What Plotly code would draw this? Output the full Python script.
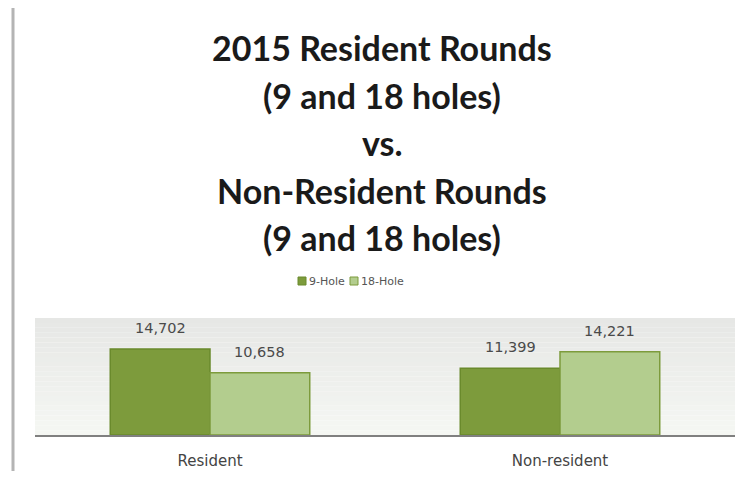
import plotly.graph_objects as go

categories = ["Resident", "Non-resident"]
series_names = ["9-Hole", "18-Hole"]
nine_hole = [14702, 11399]
eighteen_hole = [10658, 14221]
title_lines = ["2015 Resident Rounds", "(9 and 18 holes)", "vs.", "Non-Resident Rounds", "(9 and 18 holes)"]
colors = ["#7d9b3c", "#b3cd8e"]
outline = ["#6a8a2c", "#7d9b3c"]

OFF = 8  # page body margin
W, H = 750 - 2 * OFF, 479 - 2 * OFF
L, R, T, B = 35 - OFF, W - (735 - OFF), 318 - OFF, H - (435 - OFF)
plot_h = H - T - B
plot_w = W - L - R

def py(pix):
    return (H - B - (pix - OFF)) / plot_h

def px(pix):
    return ((pix - OFF) - L) / plot_w

BARGAP = 0.43
bar_px = plot_w / len(categories) * (1 - BARGAP) / 2

fig = go.Figure()
annotations = []
for j, (name, vals, c, oc) in enumerate(zip(series_names, [nine_hole, eighteen_hole], colors, outline)):
    fig.add_trace(go.Bar(
        x=categories, y=vals, name=name,
        marker=dict(color=c, line=dict(color=oc, width=1.5)),
        hoverinfo="x+y+name",
    ))
    shift = (j - 0.5) * bar_px
    for cat, v in zip(categories, vals):
        annotations.append(dict(x=cat, y=v, xref="x", yref="y", text=f"{v:,}",
                                showarrow=False, xanchor="center", yanchor="middle",
                                xshift=shift, yshift=21,
                                font=dict(family="DejaVu Sans", size=14.5, color="#4a4a4a")))

shapes = []
n = 24
top = (230, 231, 229)
bot = (245, 247, 243)
for i in range(n):
    f = i / (n - 1)
    c = tuple(int(round(top[k] + (bot[k] - top[k]) * f)) for k in range(3))
    shapes.append(dict(type="rect", xref="paper", yref="paper", x0=0, x1=1,
                       y0=1 - (i + 1) / n, y1=1 - i / n,
                       fillcolor=f"rgb{c}", line=dict(width=0), layer="below"))
shapes.append(dict(type="line", xref="paper", yref="paper", x0=px(13), x1=px(13),
                   y0=py(479), y1=py(6), line=dict(color="#b4b4b4", width=3)))

ys = [47, 95, 142, 190, 237]
for t, yy in zip(title_lines, ys):
    annotations.append(dict(text=f"<b>{t}</b>", x=px(382), y=py(yy), xref="paper", yref="paper",
                            xanchor="center", yanchor="middle", showarrow=False,
                            font=dict(family="Lato", size=34, color="#1a1a1a")))

# compact legend
leg_sq_x = [298, 350]
for name, c, oc, sx in zip(series_names, colors, outline, leg_sq_x):
    shapes.append(dict(type="rect", xref="paper", yref="paper",
                       x0=px(sx), x1=px(sx + 8), y0=py(285), y1=py(277),
                       fillcolor=c, line=dict(color=oc, width=1)))
    annotations.append(dict(text=name, x=px(sx + 9), y=py(281), xref="paper", yref="paper",
                            xanchor="left", yanchor="middle", showarrow=False,
                            font=dict(family="DejaVu Sans", size=11, color="#555555")))

fig.update_layout(
    width=W, height=H,
    margin=dict(l=L, r=R, t=T, b=B, autoexpand=False),
    paper_bgcolor="white", plot_bgcolor="rgba(0,0,0,0)",
    barmode="group", bargap=BARGAP, bargroupgap=0.0,
    showlegend=False,
    xaxis=dict(showline=True, linecolor="#808080", linewidth=2, ticks="",
               ticklabelstandoff=11, automargin=False,
               tickfont=dict(family="DejaVu Sans", size=15, color="#444444"), showgrid=False),
    yaxis=dict(range=[0, 20000], visible=False, showgrid=False, automargin=False),
    shapes=shapes, annotations=annotations,
)

fig.write_html("out.html")
